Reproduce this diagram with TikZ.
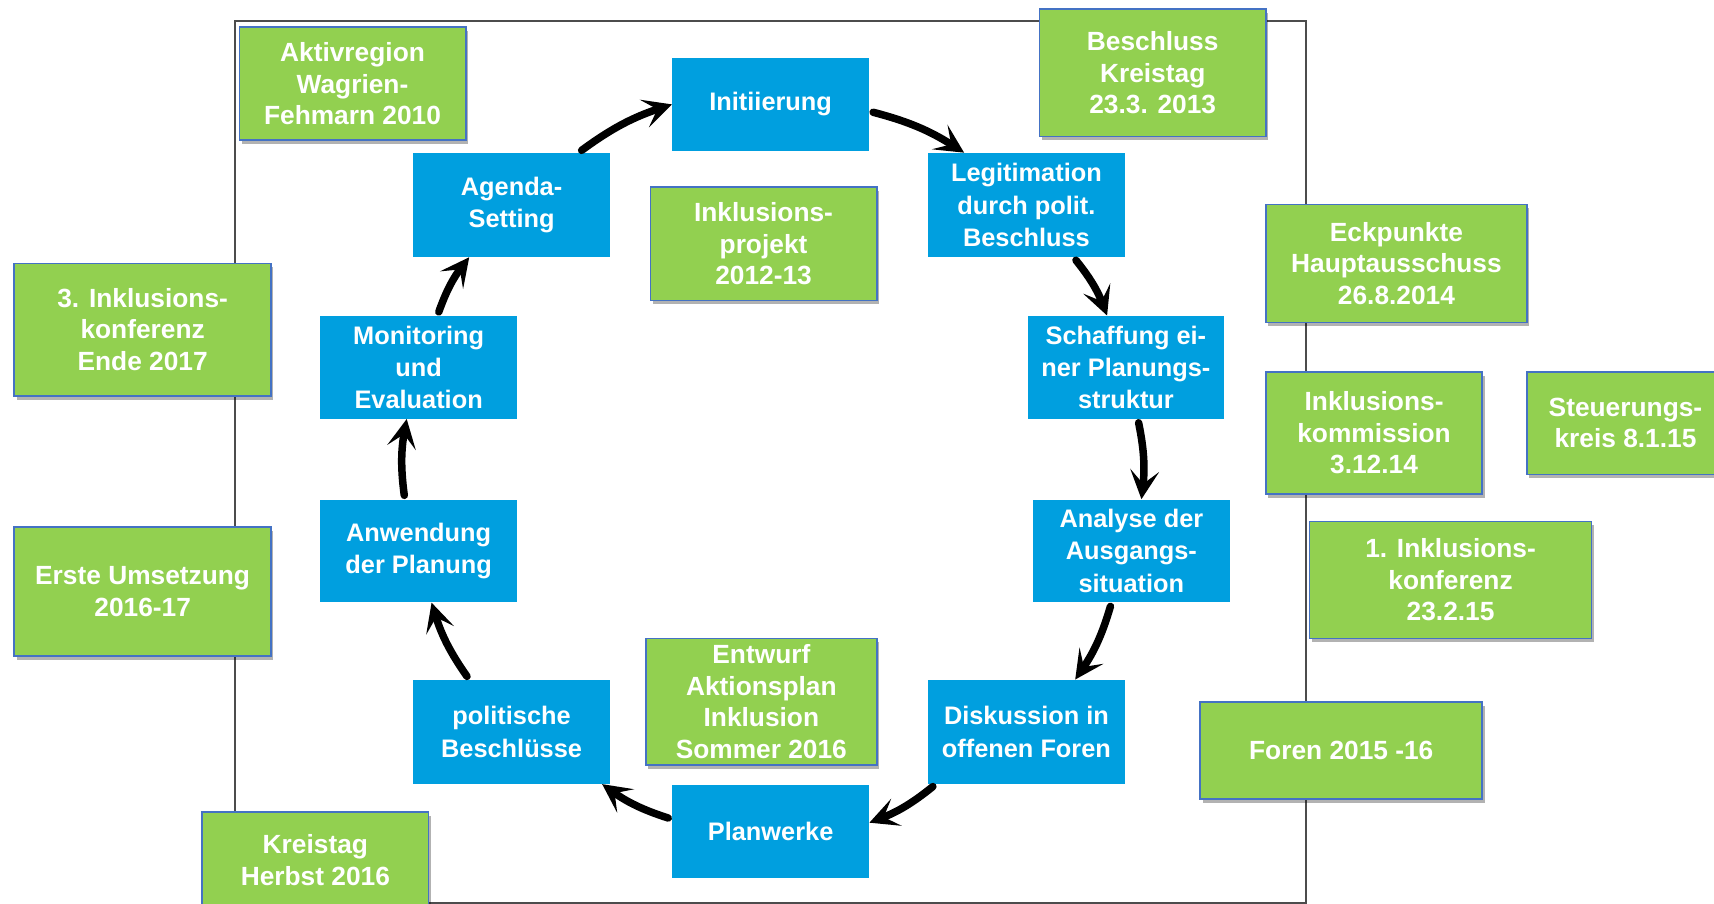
\documentclass[tikz,border=0pt]{standalone}
\usepackage{fontspec}
\setmainfont{Liberation Sans}
\usepackage{tikz}
\usetikzlibrary{arrows.meta,shadows}
\definecolor{phaseblue}{RGB}{0,159,223}
\definecolor{stepgreen}{RGB}{146,208,80}
\definecolor{stepedge}{RGB}{68,114,196}

\begin{document}
\begin{tikzpicture}[x=0.02cm,y=-0.02cm,
  phase/.style={fill=phaseblue,text=white,inner sep=0pt,minimum width=3.6cm,align=center,
    font=\bfseries\fontsize{13.2}{16.8}\selectfont},
  milestone/.style={fill=stepgreen,draw=stepedge,line width=0.9pt,text=white,inner sep=0pt,align=center,
    font=\bfseries\fontsize{13.7}{16.4}\selectfont,
    drop shadow={shadow xshift=1.2pt,shadow yshift=-2pt,opacity=.3,fill=black}},
  cyc/.style={line width=3.9pt,line cap=round,shorten <=2pt,bend left=9,
    -{Stealth[length=15pt,width=15pt,inset=7pt]}}]
\clip (0,0) rectangle (1568,827);
\fill[white] (0,0) rectangle (1568,827);
\draw[line width=0.9pt,black!70] (215,19) rectangle (1195,826);

\node[phase,minimum height=1.7cm] (init) at (705,95.5) {Initiierung};
\node[phase,minimum height=1.9cm] (legit) at (939,187.5) {Legitimation\\durch polit.\\Beschluss};
\node[phase,minimum height=1.88cm] (struct) at (1030,336) {Schaffung ei-\\ner Planungs-\\struktur};
\node[phase,minimum height=1.88cm] (analyse) at (1035,504) {Analyse der\\Ausgangs-\\situation};
\node[phase,minimum height=1.9cm] (diskuss) at (939,669.5) {Diskussion in\\offenen Foren};
\node[phase,minimum height=1.7cm] (plan) at (705,760.5) {Planwerke};
\node[phase,minimum height=1.9cm] (beschl) at (468,669.5) {politische\\Beschlüsse};
\node[phase,minimum height=1.88cm] (anwend) at (383,504) {Anwendung\\der Planung};
\node[phase,minimum height=1.88cm] (monitor) at (383,336) {Monitoring\\und\\Evaluation};
\node[phase,minimum height=1.9cm] (agenda) at (468,187.5) {Agenda-\\Setting};

\draw[cyc] (agenda.38) to (init.west);
\draw[cyc] (init.-4) to (legit.140);
\draw[cyc] (legit.-48) to (struct.110);
\draw[cyc] (struct.-77) to (analyse.79);
\draw[cyc] (analyse.-111) to (diskuss.47);
\draw[cyc] (diskuss.210) to (plan.5);
\draw[cyc] (plan.173) to (beschl.-30);
\draw[cyc] (beschl.129) to (anwend.-76);
\draw[cyc] (anwend.105) to (monitor.-103);
\draw[cyc] (monitor.70) to (agenda.-129);

\node[milestone,minimum width=4.14cm,minimum height=2.06cm] (aktiv) at (322.5,76.5) {Aktivregion\\Wagrien-\\Fehmarn 2010};
\node[milestone,minimum width=4.14cm,minimum height=2.08cm] (projekt) at (698.5,223) {Inklusions-\\projekt\\2012-13};
\node[milestone,minimum width=4.14cm,minimum height=2.34cm] (kreistag) at (1054.5,66.5) {Beschluss\\Kreistag\\23.3. 2013};
\node[milestone,minimum width=4.78cm,minimum height=2.16cm] (eckpunkte) at (1277.5,241) {Eckpunkte\\Hauptausschuss\\26.8.2014};
\node[milestone,minimum width=3.96cm,minimum height=2.24cm] (kommission) at (1257,396) {Inklusions-\\kommission\\3.12.14};
\node[milestone,minimum width=3.6cm,minimum height=1.88cm] (steuerung) at (1487,387) {Steuerungs-\\kreis 8.1.15};
\node[milestone,minimum width=5.16cm,minimum height=2.14cm] (konf1) at (1327,530.5) {1. Inklusions-\\konferenz\\23.2.15};
\node[milestone,minimum width=5.16cm,minimum height=1.78cm] (foren) at (1227,686.5) {Foren 2015 -16};
\node[milestone,minimum width=4.7cm,minimum height=2.42cm] (konf3) at (130.5,301.5) {3. Inklusions-\\konferenz\\Ende 2017};
\node[milestone,minimum width=4.7cm,minimum height=2.36cm] (umsetz) at (130.5,541) {Erste Umsetzung\\2016-17};
\node[milestone,minimum width=4.14cm,minimum height=1.76cm] (herbst) at (288.5,787) {Kreistag\\Herbst 2016};
\node[milestone,minimum width=4.22cm,minimum height=2.32cm] (entwurf) at (696.5,642) {Entwurf\\Aktionsplan\\Inklusion\\Sommer 2016};
\end{tikzpicture}
\end{document}
